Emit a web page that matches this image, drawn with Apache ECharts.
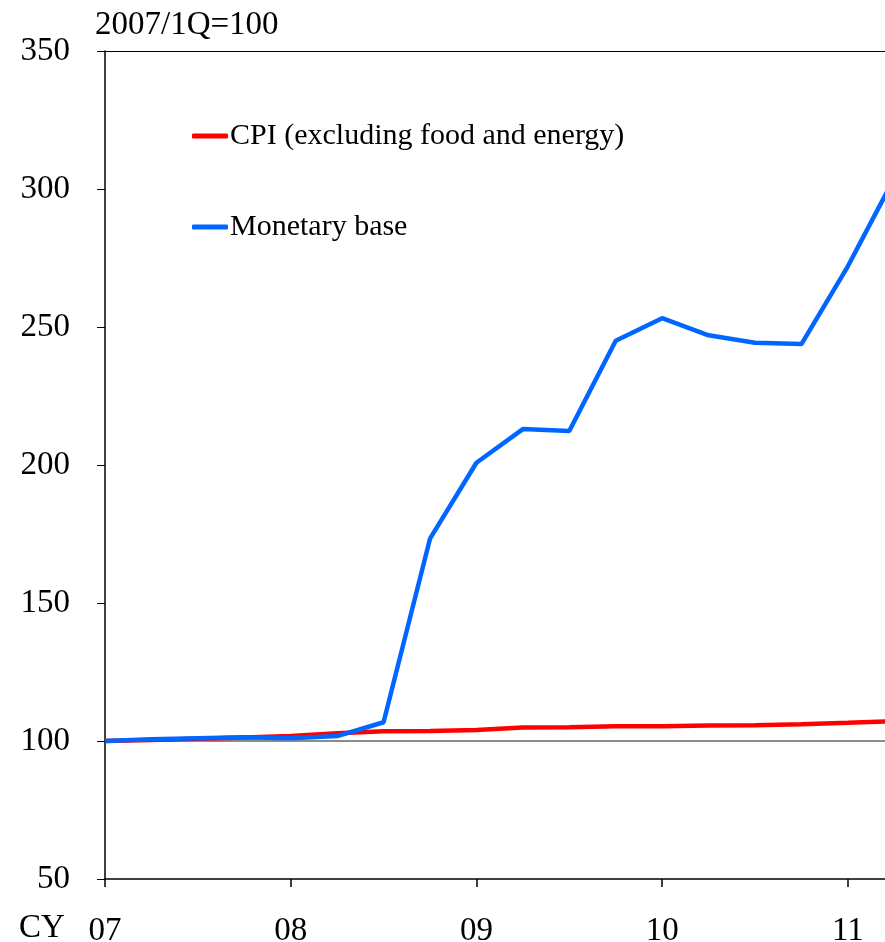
<!DOCTYPE html>
<html>
<head>
<meta charset="utf-8">
<script src="https://cdn.jsdelivr.net/npm/echarts@6/dist/echarts.min.js"></script>
<style>html,body{margin:0;padding:0;background:#fff}#c{width:885px;height:942px}</style>
</head>
<body>
<div id="c"></div>
<script>
// Quarters from 2007/1Q to 2011/2Q (index 0 = 2007/1Q)
var quarters = ['07/1Q','07/2Q','07/3Q','07/4Q','08/1Q','08/2Q','08/3Q','08/4Q','09/1Q','09/2Q','09/3Q','09/4Q','10/1Q','10/2Q','10/3Q','10/4Q','11/1Q','11/2Q'];
var cpiCore = [100, 100.4, 100.8, 101.3, 101.8, 102.8, 103.5, 103.6, 104.0, 104.9, 105.0, 105.3, 105.3, 105.6, 105.7, 106.1, 106.6, 107.2];
var monetaryBase = [100, 100.6, 101.0, 101.4, 101.0, 101.8, 106.8, 173.3, 200.8, 213.0, 212.3, 245.0, 253.2, 247.0, 244.3, 243.8, 272.0, 304.0];
var yearTickPositions = [0, 4, 8, 12, 16];
var yearTickLabels = ['07', '08', '09', '10', '11'];
var seriesNames = ['CPI (excluding food and energy)', 'Monetary base'];

var FONT = 'Liberation Serif';
function toPairs(arr){ return arr.map(function(v,i){ return [i, v]; }); }

var chart = echarts.init(document.getElementById('c'));
chart.setOption({
  animation: false,
  backgroundColor: '#fff',
  textStyle: { fontFamily: FONT },
  title: {
    text: '2007/1Q=100', left: 90, top: 4,
    textStyle: { fontFamily: FONT, fontSize: 33, fontWeight: 'normal', color: '#000' }
  },
  graphic: [{
    type: 'text', left: 19, top: 912,
    style: { text: 'CY', font: '33px "Liberation Serif"', fill: '#000' }
  }],
  legend: {
    orient: 'vertical', left: 187, top: 116,
    itemWidth: 36, itemHeight: 5, itemGap: 61,
    icon: 'roundRect',
    textStyle: { fontFamily: FONT, fontSize: 30, color: '#000', padding: [0,0,0,-3] },
    data: seriesNames
  },
  grid: { left: 105, right: 0, top: 51, bottom: 63, containLabel: false, outerBoundsMode: 'none' },
  xAxis: {
    type: 'value', min: 0, max: 16.8,
    axisLine: { show: true, lineStyle: { color: '#000', width: 1.5 } },
    axisTick: { show: true, length: 8, customValues: yearTickPositions, lineStyle: { color: '#000', width: 1.5 } },
    axisLabel: {
      customValues: yearTickPositions, margin: 36,
      fontFamily: FONT, fontSize: 33, color: '#000',
      formatter: function(v){ var k = yearTickPositions.indexOf(v); return k >= 0 ? yearTickLabels[k] : ''; }
    },
    splitLine: { show: false }
  },
  yAxis: {
    type: 'value', min: 50, max: 350, interval: 50,
    axisLine: { show: true, lineStyle: { color: '#000', width: 1.5 } },
    axisTick: { show: true, length: 8, lineStyle: { color: '#000', width: 1 } },
    axisLabel: { margin: 35, fontFamily: FONT, fontSize: 33, color: '#000', padding: [2, 0, 0, 0] },
    splitLine: { show: false }
  },
  series: [
    {
      name: seriesNames[0], type: 'line', data: toPairs(cpiCore),
      showSymbol: false, symbol: 'none',
      lineStyle: { color: '#ff0000', width: 4.5 }, itemStyle: { color: '#ff0000' },
      z: 3,
      markLine: {
        silent: true, symbol: 'none', label: { show: false },
        data: [
          { yAxis: 100, lineStyle: { color: '#666', width: 1.5, type: 'solid' } },
          { yAxis: 350, lineStyle: { color: '#000', width: 1, type: 'solid' } }
        ],
        z: 1
      }
    },
    {
      name: seriesNames[1], type: 'line', data: toPairs(monetaryBase),
      showSymbol: false, symbol: 'none',
      lineStyle: { color: '#0066ff', width: 4.5 }, itemStyle: { color: '#0066ff' },
      z: 4
    }
  ]
});
</script>
</body>
</html>
